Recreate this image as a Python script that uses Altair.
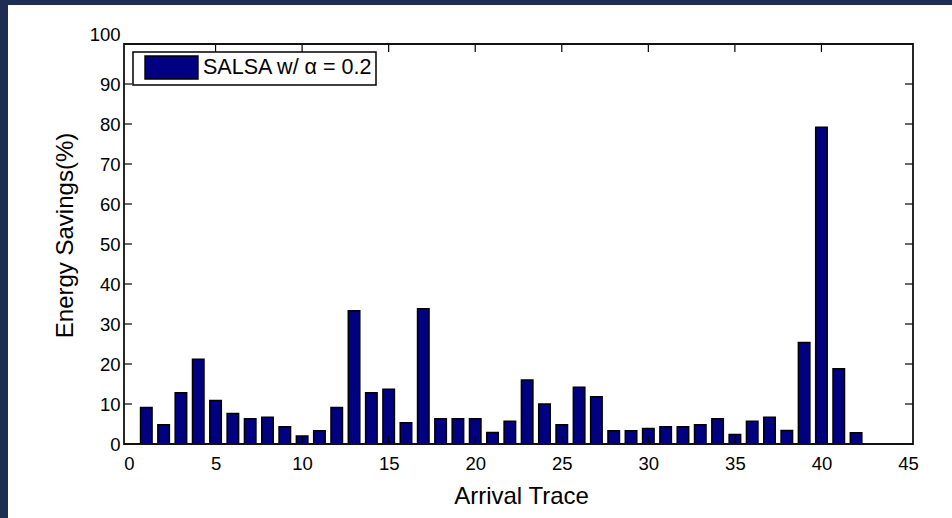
import altair as alt
import pandas as pd

# ---- data ----
traces = list(range(1, 43))
savings = [9.1, 4.8, 12.8, 21.2, 10.9, 7.6, 6.3, 6.7, 4.3, 2.0,
           3.3, 9.1, 33.3, 12.8, 13.7, 5.3, 33.8, 6.3, 6.3, 6.3,
           2.9, 5.7, 16.0, 10.0, 4.8, 14.2, 11.8, 3.3, 3.3, 3.9,
           4.3, 4.3, 4.8, 6.3, 2.4, 5.7, 6.7, 3.4, 25.4, 79.2,
           18.8, 2.8]
series_label = "SALSA w/ \u03b1 = 0.2"
x_title = "Arrival Trace"
y_title = "Energy Savings(%)"
x_ticks = [0, 5, 10, 15, 20, 25, 30, 35, 40, 45]
y_ticks = [0, 10, 20, 30, 40, 50, 60, 70, 80, 90, 100]
x_inner = x_ticks[1:-1]
y_inner = y_ticks[1:-1]

W, H = 789, 400
FONT = "Liberation Sans"
NAVY_BG = "#1e2d52"
BAR = "#000080"
TL = 8  # inward tick length

df = pd.DataFrame({"trace": traces, "saving": savings,
                   "series": [series_label] * len(traces)})
xt_df = pd.DataFrame({"trace": x_inner})
yt_df = pd.DataFrame({"saving": y_inner})
one = pd.DataFrame({"k": [0]})

xscale = alt.Scale(domain=[0, 45], nice=False, zero=False)
yscale = alt.Scale(domain=[0, 100], nice=False)

x_axis = alt.Axis(values=x_ticks, ticks=False, domain=False, zindex=2,
                  grid=False, labelFontSize=18.5, labelPadding=10, labelFlush=False,
                  labelOverlap=False, labelColor="black", labelFont=FONT,
                  titleFont=FONT, titleFontSize=24, titleFontWeight="normal",
                  titleColor="black", titleX=397, titleY=59,
                  titleBaseline="alphabetic")
y_axis = alt.Axis(values=y_ticks, ticks=False, domain=False, zindex=2,
                  grid=False, labelFontSize=18.5, labelPadding=4, labelFlush=False,
                  labelOverlap=False, labelColor="black", labelFont=FONT,
                  labelBaseline={"condition": {"test": "datum.value == 100",
                                               "value": "bottom"},
                                 "value": "middle"},
                  titleFont=FONT, titleFontSize=24, titleFontWeight="normal",
                  titleColor="black", titleX=-52, titleY=191,
                  titleBaseline="alphabetic")

# white page panel behind the figure (decoration)
panel = alt.Chart(one).mark_rect(fill="white").encode(
    x=alt.value(-116), x2=alt.value(W + 39),
    y=alt.value(-39), y2=alt.value(H + 74))

bars = alt.Chart(df).mark_bar(size=11.5, stroke="black", strokeWidth=1.5).encode(
    x=alt.X("trace:Q", scale=xscale, title=x_title, axis=x_axis),
    y=alt.Y("saving:Q", scale=yscale, title=y_title, axis=y_axis),
    color=alt.Color("series:N",
                    scale=alt.Scale(domain=[series_label], range=[BAR]),
                    legend=alt.Legend(title=None, orient="none", legendX=9, legendY=8,
                                      symbolType="M-0.3,-1 L4.3,-1 L4.3,1 L-0.3,1 Z",
                                      symbolSize=529, symbolStrokeColor="black",
                                      symbolStrokeWidth=1.5, symbolOpacity=1,
                                      labelFontSize=21.5, labelFont=FONT, labelColor="black",
                                      labelLimit=0, labelOffset=42, padding=3,
                                      fillColor="white", strokeColor="black", zindex=3)),
)

rule_style = dict(color="black", strokeWidth=1.2)
bottom_ticks = alt.Chart(xt_df).mark_rule(**rule_style).encode(
    x=alt.X("trace:Q", scale=xscale, title=x_title, axis=x_axis),
    y=alt.value(H), y2=alt.value(H - TL))
top_ticks = alt.Chart(xt_df).mark_rule(**rule_style).encode(
    x=alt.X("trace:Q", scale=xscale, title=x_title, axis=x_axis),
    y=alt.value(0), y2=alt.value(TL))
left_ticks = alt.Chart(yt_df).mark_rule(**rule_style).encode(
    y=alt.Y("saving:Q", scale=yscale, title=y_title, axis=y_axis),
    x=alt.value(0), x2=alt.value(TL))
right_ticks = alt.Chart(yt_df).mark_rule(**rule_style).encode(
    y=alt.Y("saving:Q", scale=yscale, title=y_title, axis=y_axis),
    x=alt.value(W), x2=alt.value(W - TL))

frame = alt.Chart(one).mark_rect(fill="white", fillOpacity=0, stroke="#111",
                                 strokeWidth=1.8).encode(
    x=alt.value(0), x2=alt.value(W), y=alt.value(0), y2=alt.value(H))

chart = alt.layer(panel, bars, bottom_ticks, top_ticks, left_ticks, right_ticks, frame).properties(
    width=W, height=H,
    padding={"left": 8, "top": 5, "right": 0, "bottom": 0},
    autosize=alt.AutoSizeParams(type="pad"),
).configure(
    background=NAVY_BG, font=FONT
).configure_view(stroke=None).configure_legend(strokeWidth=1.5, cornerRadius=0)

chart.save("out.html", embed_options={"renderer": "svg", "actions": False})
